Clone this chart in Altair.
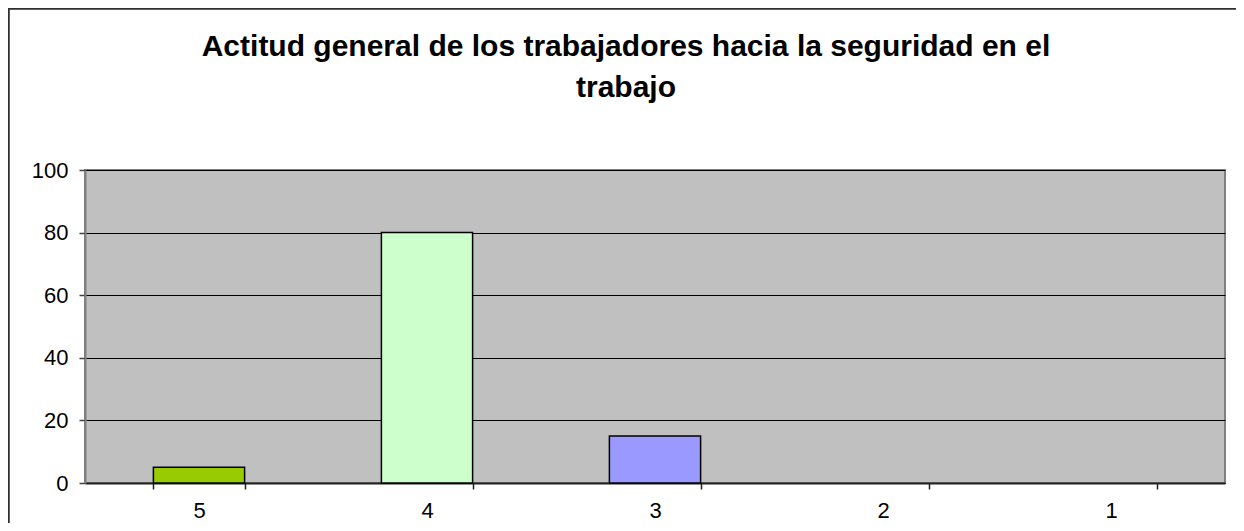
import altair as alt
import pandas as pd

categories = ["5", "4", "3", "2", "1"]
values = [5, 80, 15, 0, 0]
bar_colors = ["#99CC00", "#CCFFCC", "#9999FF", "#FFFF99", "#FF99CC"]
y_ticks = [0, 20, 40, 60, 80, 100]
title_lines = ["Actitud general de los trabajadores hacia la seguridad en el", "trabajo"]

df = pd.DataFrame({"cat": categories, "value": values, "color": bar_colors})

FONT = "Liberation Sans"

bars = alt.Chart(df).mark_bar(stroke="black").encode(
    x=alt.X(
        "cat:N",
        sort=categories,
        scale=alt.Scale(paddingInner=0.6, paddingOuter=0.3),
        axis=alt.Axis(
            title=None, labelAngle=0, tickBand="extent", grid=False,
            labelFont=FONT, labelFontSize=22, labelColor="black",
            labelPadding=11, tickSize=6, tickColor="#202020", tickWidth=1.5,
            domainColor="#202020", domainWidth=2,
        ),
    ),
    y=alt.Y(
        "value:Q",
        scale=alt.Scale(domain=[0, 100], nice=False),
        axis=alt.Axis(
            title=None, values=y_ticks, grid=True, gridColor="black", gridWidth=1,
            labelFont=FONT, labelFontSize=22, labelColor="black",
            labelPadding=11, tickSize=6, tickColor="#404040", tickWidth=1.5,
            domainColor="#808080", domainWidth=2,
        ),
    ),
    color=alt.Color("color:N", scale=None, legend=None),
    strokeWidth=alt.condition("datum.value > 0", alt.value(1.5), alt.value(0)),
)

frame_left = alt.Chart(df).mark_rule(color="#303030", strokeWidth=1.5).encode(
    x=alt.value(-76.5), y=alt.value(-161.5), y2=alt.value(370)
)
frame_top = alt.Chart(df).mark_rule(color="#303030", strokeWidth=1.5).encode(
    x=alt.value(-76.5), x2=alt.value(1170), y=alt.value(-161.5)
)

chart = alt.layer(bars, frame_left, frame_top).properties(
    width=1140,
    height=313,
    background="white",
    autosize=alt.AutoSizeParams(type="none"),
    padding={"left": 77, "top": 162, "right": 11, "bottom": 40},
    title=alt.TitleParams(
        text=title_lines,
        font=FONT,
        fontSize=30,
        fontWeight="bold",
        color="black",
        anchor="middle",
        frame="group",
        dx=-29,
        baseline="alphabetic",
        offset=-119,
        lineHeight=41,
    ),
).configure_view(
    fill="#C0C0C0", stroke="#808080", strokeWidth=2
)

chart.save("out.html", embed_options={"renderer": "svg", "actions": False})
